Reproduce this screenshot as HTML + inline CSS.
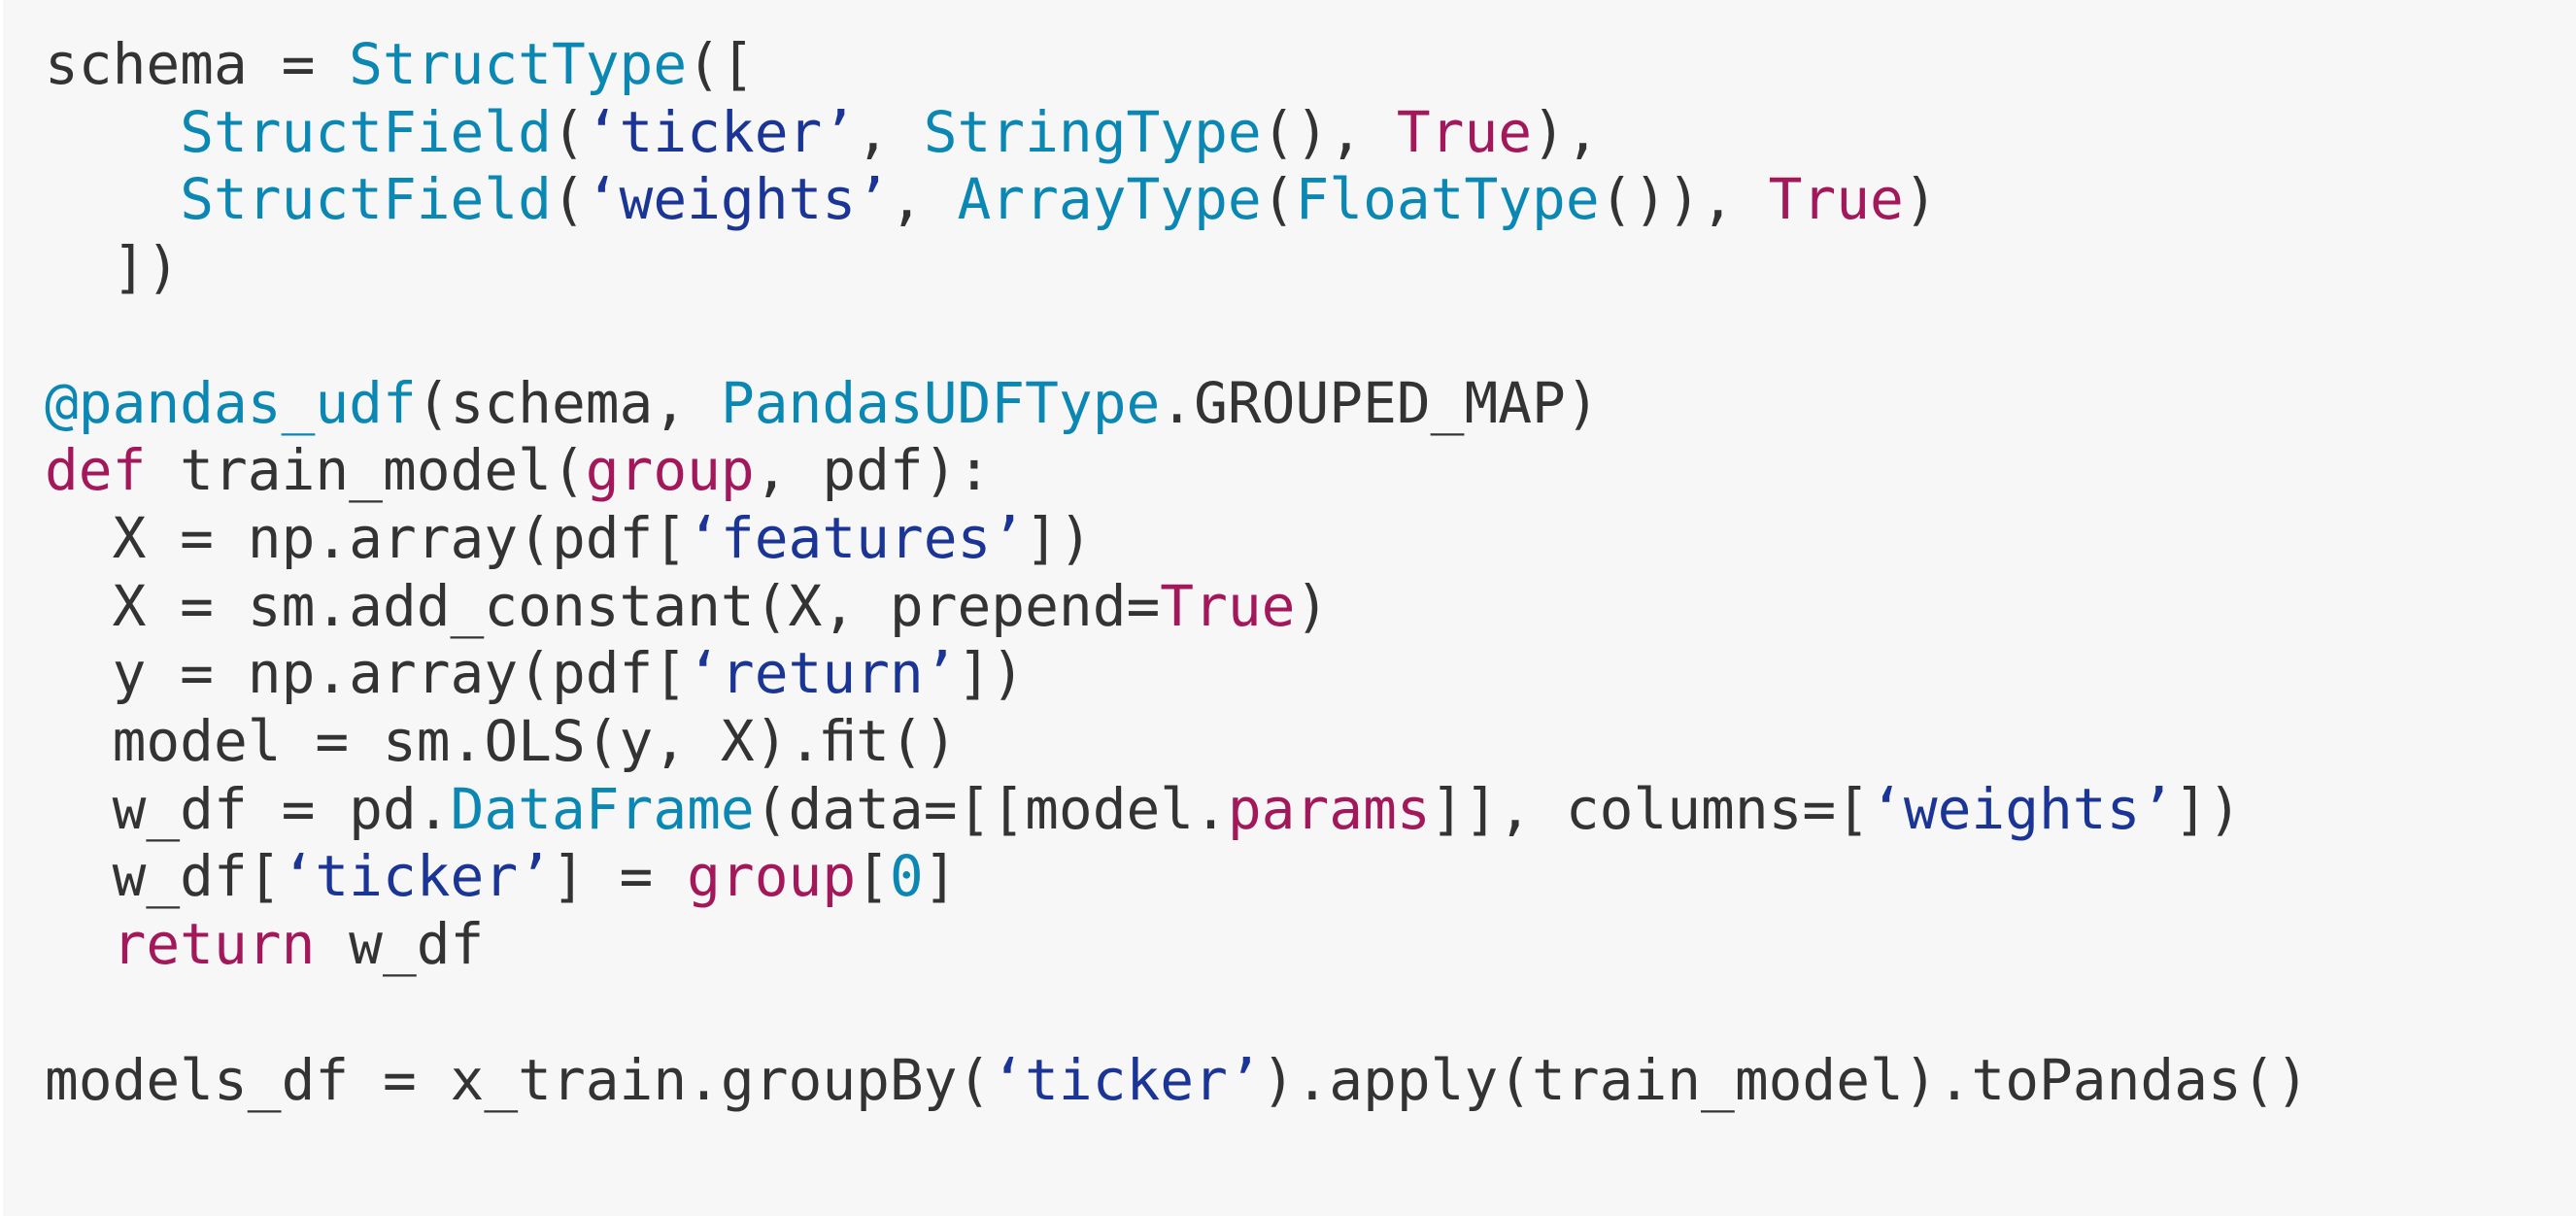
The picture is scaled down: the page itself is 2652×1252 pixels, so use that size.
<!DOCTYPE html>
<html><head><meta charset="utf-8"><style>
html,body{margin:0;padding:0;}
body{width:2652px;height:1252px;background:#f7f7f7;overflow:hidden;position:relative;border-left:3px solid #fff;box-sizing:border-box;}
pre{position:absolute;left:43px;top:32px;margin:0;font-family:"DejaVu Sans Mono","Liberation Mono",monospace;font-size:57.8px;line-height:69.7px;color:#333;}
.t{color:#0a87b3}.s{color:#1b3596}.k{color:#a3185a}
</style></head><body><pre>schema = <span class="t">StructType</span>([
    <span class="t">StructField</span>(<span class="s">‘ticker’</span>, <span class="t">StringType</span>(), <span class="k">True</span>),
    <span class="t">StructField</span>(<span class="s">‘weights’</span>, <span class="t">ArrayType</span>(<span class="t">FloatType</span>()), <span class="k">True</span>)
  ])

<span class="t">@pandas_udf</span>(schema, <span class="t">PandasUDFType</span>.GROUPED_MAP)
<span class="k">def</span> train_model(<span class="k">group</span>, pdf):
  X = np.array(pdf[<span class="s">‘features’</span>])
  X = sm.add_constant(X, prepend=<span class="k">True</span>)
  y = np.array(pdf[<span class="s">‘return’</span>])
  model = sm.OLS(y, X).ﬁt()
  w_df = pd.<span class="t">DataFrame</span>(data=[[model.<span class="k">params</span>]], columns=[<span class="s">‘weights’</span>])
  w_df[<span class="s">‘ticker’</span>] = <span class="k">group</span>[<span class="t">0</span>]
  <span class="k">return</span> w_df

models_df = x_train.groupBy(<span class="s">‘ticker’</span>).apply(train_model).toPandas()</pre></body></html>
